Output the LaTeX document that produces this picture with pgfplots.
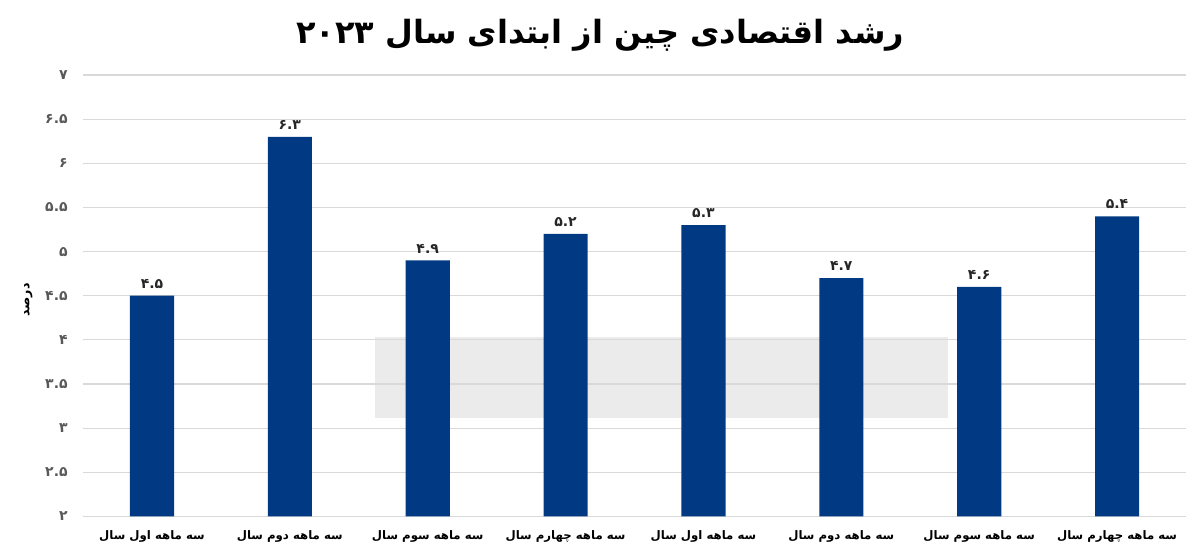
\documentclass[border=0pt]{standalone}
\usepackage{fontspec}
\usepackage{pgfplots}
\pgfplotsset{compat=1.18}
\TeXXeTstate=1
\newfontfamily\arabicfont[Script=Arabic]{DejaVu Sans}
\definecolor{barblue}{RGB}{1,57,130}
\definecolor{gridgray}{RGB}{217,217,217}
\definecolor{tickgray}{RGB}{89,89,89}
\definecolor{wmgray}{RGB}{235,235,235}
\begin{document}
\begin{tikzpicture}
\begin{axis}[
  name=ax,
  set layers,
  scale only axis,
  width=827pt, height=331pt,
  xmin=-0.5, xmax=7.5,
  ymin=2, ymax=7,
  ytick={2,2.5,3,3.5,4,4.5,5,5.5,6,6.5,7},
  yticklabels={۲,۲.۵,۳,۳.۵,۴,۴.۵,۵,۵.۵,۶,۶.۵,۷},
  xtick={0,1,2,3,4,5,6,7},
  xticklabels={
    {\beginR سه ماهه اول سال\endR},
    {\beginR سه ماهه دوم سال\endR},
    {\beginR سه ماهه سوم سال\endR},
    {\beginR سه ماهه چهارم سال\endR},
    {\beginR سه ماهه اول سال\endR},
    {\beginR سه ماهه دوم سال\endR},
    {\beginR سه ماهه سوم سال\endR},
    {\beginR سه ماهه چهارم سال\endR}},
  major tick length=0pt,
  axis line style={draw=none},
  ymajorgrids,
  grid style={gridgray, line width=0.8pt},
  yticklabel style={font=\arabicfont\bfseries\fontsize{10.5}{12}\selectfont, text=tickgray, xshift=-8pt},
  xticklabel style={font=\arabicfont\bfseries\fontsize{8.8}{11}\selectfont, text=black, yshift=-7pt},
  ylabel={\beginR درصد\endR},
  ylabel style={font=\arabicfont\bfseries\fontsize{9.5}{10}\selectfont, at={(rel axis cs:-0.0496,0.49)}, anchor=center},
  title={\beginR رشد اقتصادی چین از ابتدای سال ۲۰۲۳\endR},
  title style={font=\arabicfont\bfseries\fontsize{24}{28}\selectfont, at={(0.469,1)}, anchor=center, yshift=24pt},
  ybar, bar width=0.32,
  point meta=explicit symbolic,
  nodes near coords,
  nodes near coords style={font=\arabicfont\bfseries\fontsize{10.5}{12}\selectfont, text=black!85, yshift=2pt},
]
\begin{pgfonlayer}{axis background}
\fill[wmgray] (axis cs:1.617,3.11) rectangle (axis cs:5.773,4.03);
\end{pgfonlayer}
\addplot[fill=barblue, draw=none] coordinates {
  (0,4.5) [۴.۵]
  (1,6.3) [۶.۳]
  (2,4.9) [۴.۹]
  (3,5.2) [۵.۲]
  (4,5.3) [۵.۳]
  (5,4.7) [۴.۷]
  (6,4.6) [۴.۶]
  (7,5.4) [۵.۴]
};
\end{axis}
\pgfresetboundingbox
\path ([shift={(-62.25pt,-30.75pt)}]ax.south west) rectangle ([shift={(10.5pt,56.25pt)}]ax.north east);
\end{tikzpicture}
\end{document}
